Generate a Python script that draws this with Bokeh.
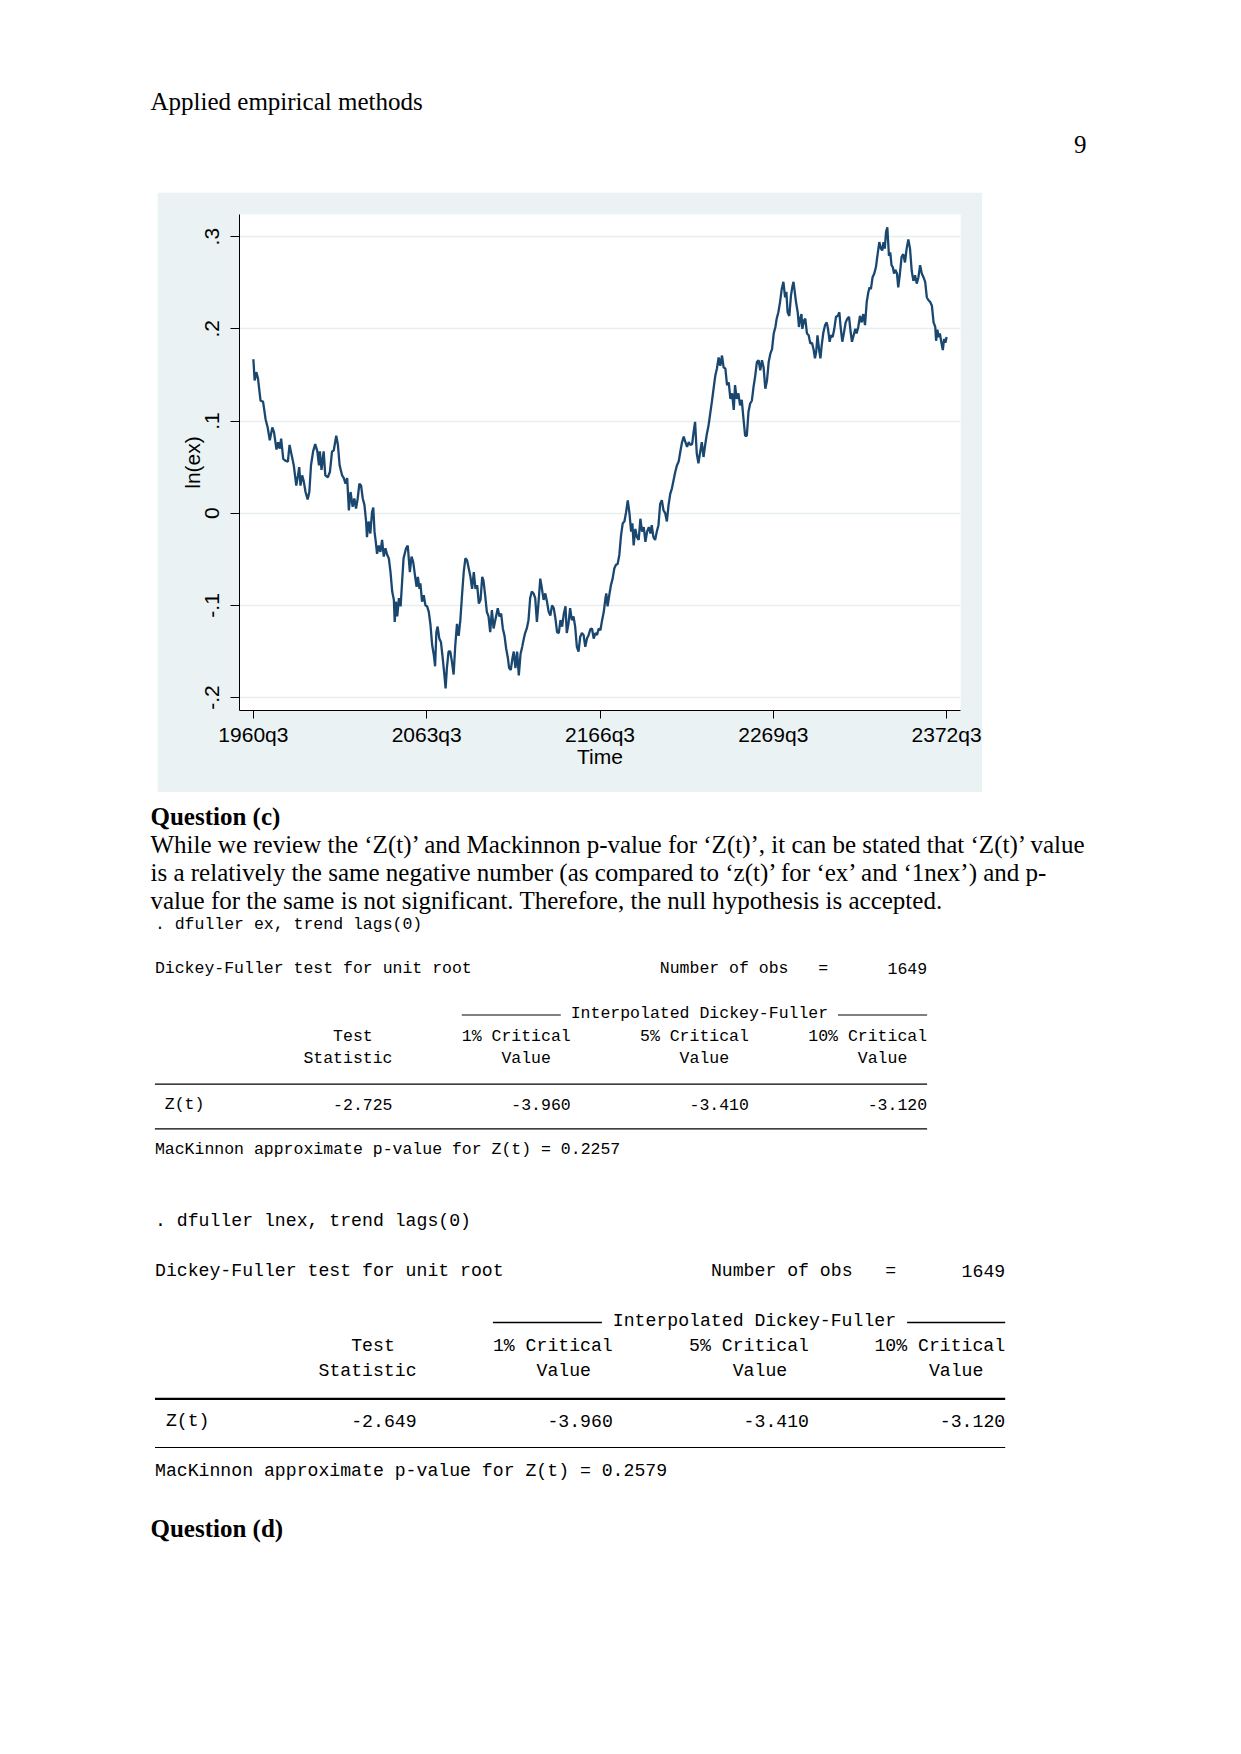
import re
from bokeh.plotting import figure
from bokeh.models import Range1d, FixedTicker, Spacer
from bokeh.layouts import column, row
from bokeh.embed import file_html
from bokeh.resources import INLINE
from bokeh.core.properties import value

# ---------------- chart data (quarter index from 1960q3, ln(ex)) ----------------
quarter_idx = [
    0, 3, 7, 11, 17, 23, 29, 34, 39, 45, 49, 55, 59, 63, 66, 71, 76, 82, 86, 91,
    96, 102, 106, 109, 112, 116, 120, 124, 129, 133, 137, 142, 147, 152, 156, 158, 162, 167, 171, 177,
    182, 187, 191, 197, 201, 205, 211, 215, 219, 223, 227, 231, 236, 240, 244, 248, 252, 256, 260, 264,
    268, 270, 274, 278, 282, 285, 288, 291, 294, 298, 302, 306, 310, 314, 318, 322, 326, 330, 334, 336,
    339, 342, 346, 350, 354, 357, 363, 367, 372, 376, 380, 384, 388, 391, 395,
    397, 401, 405, 409, 413, 417, 421, 425, 429, 432, 435, 438, 442, 446, 450, 454, 457, 460, 464, 468,
    472, 476, 480, 484, 488, 492, 496, 500, 504, 508, 512, 516, 520, 524, 528, 532, 536, 540, 544, 547,
    551, 555, 559, 563, 567, 571, 575, 581, 585, 589, 593, 597, 601, 605, 608, 612, 616, 619, 623, 627,
    631, 635, 639, 643, 646, 650, 654, 658, 662, 666, 670, 674, 678, 682, 686, 690, 694, 698, 702, 706,
    710, 714, 718, 722, 726, 730, 734, 738, 742, 745, 749, 753, 757, 761, 765, 769, 773, 777, 781, 785,
    789, 793, 797, 801, 805, 809, 813, 817, 821,
    825, 829, 833, 837, 839, 842, 846, 850, 854, 858, 862, 866, 870, 874, 878, 882, 886, 890, 894, 898,
    901, 904, 908, 912, 916, 920, 924, 928, 932, 936, 940, 944, 947, 951, 955, 959, 963, 967, 971, 975,
    979, 983, 987, 991, 995, 999, 1003, 1007, 1011, 1015, 1019, 1023, 1027, 1031, 1035, 1039, 1043, 1046, 1050, 1054,
    1058, 1062, 1066, 1070, 1074, 1078, 1082, 1086, 1090, 1094, 1098, 1102, 1106, 1110, 1114, 1118, 1122, 1126, 1130, 1134,
    1138, 1142, 1145, 1149, 1153, 1157, 1161, 1165, 1169, 1173, 1177, 1181, 1185, 1189, 1193, 1197, 1201, 1205, 1209, 1213,
    1217, 1221, 1225, 1229, 1233, 1237, 1241, 1244, 1248,
    1252, 1256, 1260, 1264, 1267, 1270, 1274, 1278, 1281, 1284, 1287, 1290, 1294, 1297, 1300, 1303, 1305, 1309, 1312, 1316,
    1320, 1324, 1328, 1332, 1335, 1338, 1341, 1345, 1348, 1351, 1355, 1359, 1363, 1366, 1370, 1373, 1377, 1381, 1385, 1389,
    1393, 1396, 1400, 1404, 1408, 1412, 1416, 1420, 1423, 1427, 1431, 1434, 1438, 1442, 1446, 1450, 1454, 1458, 1462, 1465,
    1468, 1472, 1476, 1480, 1484, 1488, 1492, 1495, 1498, 1501, 1504, 1507, 1511, 1514, 1517, 1520, 1523, 1526, 1530, 1533,
    1537, 1541, 1545, 1549, 1553, 1557, 1561, 1565, 1569, 1573, 1577, 1581, 1585, 1589, 1593, 1597, 1601, 1605, 1609, 1613,
    1617, 1621, 1623, 1626, 1629, 1632, 1636, 1639, 1642, 1645, 1648,
]
ln_ex = [
    0.167, 0.144, 0.153, 0.146, 0.122, 0.121, 0.102, 0.093, 0.079, 0.093, 0.088, 0.069, 0.077, 0.070, 0.081, 0.059, 0.057, 0.056, 0.074, 0.063,
    0.052, 0.030, 0.041, 0.050, 0.030, 0.041, 0.034, 0.023, 0.015, 0.023, 0.052, 0.067, 0.075, 0.067, 0.052, 0.067, 0.047, 0.067, 0.041, 0.039,
    0.045, 0.067, 0.068, 0.084, 0.074, 0.052, 0.041, 0.038, 0.032, 0.038, 0.003, 0.023, 0.007, 0.016, 0.005, 0.016, 0.032, 0.030, 0.016, 0.009,
    -0.009, -0.026, -0.009, -0.022, 0.001, 0.006, -0.020, -0.031, -0.044, -0.035, -0.042, -0.029, -0.047, -0.038, -0.045, -0.049, -0.064, -0.085, -0.094, -0.118,
    -0.096, -0.112, -0.092, -0.101, -0.071, -0.049, -0.038, -0.035, -0.064, -0.047, -0.053, -0.067, -0.080, -0.069, -0.082,
    -0.076, -0.096, -0.089, -0.100, -0.101, -0.107, -0.121, -0.143, -0.154, -0.166, -0.129, -0.123, -0.136, -0.140, -0.157, -0.175, -0.190, -0.168, -0.150, -0.150,
    -0.161, -0.175, -0.143, -0.120, -0.133, -0.116, -0.089, -0.064, -0.049, -0.051, -0.060, -0.069, -0.082, -0.064, -0.082, -0.078, -0.098, -0.094, -0.069, -0.073,
    -0.089, -0.107, -0.112, -0.129, -0.105, -0.125, -0.116, -0.103, -0.112, -0.109, -0.125, -0.133, -0.147, -0.157, -0.168, -0.170, -0.157, -0.150, -0.168, -0.150,
    -0.176, -0.153, -0.145, -0.136, -0.130, -0.125, -0.116, -0.092, -0.085, -0.087, -0.092, -0.118, -0.096, -0.071, -0.082, -0.094, -0.087, -0.096, -0.107, -0.111,
    -0.100, -0.103, -0.114, -0.129, -0.130, -0.116, -0.123, -0.109, -0.101, -0.130, -0.120, -0.103, -0.116, -0.112, -0.123, -0.145, -0.150, -0.134, -0.130, -0.132,
    -0.145, -0.136, -0.132, -0.126, -0.125, -0.136, -0.130, -0.132, -0.125,
    -0.127, -0.116, -0.107, -0.092, -0.087, -0.101, -0.089, -0.078, -0.071, -0.060, -0.056, -0.055, -0.045, -0.024, -0.011, -0.009, 0.001, 0.014, 0.000, -0.020,
    -0.011, -0.035, -0.017, -0.026, -0.029, -0.006, -0.020, -0.015, -0.031, -0.020, -0.015, -0.022, -0.013, -0.026, -0.029, -0.020, -0.013, 0.010, 0.014, 0.003,
    0.000, -0.009, 0.009, 0.021, 0.027, 0.036, 0.045, 0.052, 0.056, 0.067, 0.077, 0.083, 0.077, 0.072, 0.077, 0.074, 0.075, 0.086, 0.099, 0.065,
    0.054, 0.066, 0.077, 0.061, 0.074, 0.086, 0.095, 0.108, 0.121, 0.135, 0.149, 0.157, 0.169, 0.160, 0.171, 0.158, 0.157, 0.139, 0.142, 0.124,
    0.130, 0.112, 0.139, 0.124, 0.130, 0.117, 0.123, 0.103, 0.084, 0.084, 0.110, 0.119, 0.122, 0.137, 0.149, 0.164, 0.166, 0.155, 0.166, 0.158,
    0.135, 0.144, 0.164, 0.173, 0.178, 0.195, 0.202, 0.211, 0.218,
    0.229, 0.243, 0.251, 0.234, 0.240, 0.218, 0.214, 0.236, 0.245, 0.251, 0.240, 0.229, 0.218, 0.202, 0.211, 0.216, 0.200, 0.209, 0.211, 0.195,
    0.193, 0.184, 0.185, 0.177, 0.168, 0.175, 0.193, 0.177, 0.168, 0.182, 0.196, 0.204, 0.207, 0.200, 0.186, 0.193, 0.191, 0.200, 0.213, 0.214,
    0.218, 0.202, 0.186, 0.196, 0.207, 0.211, 0.213, 0.196, 0.186, 0.193, 0.200, 0.195, 0.202, 0.214, 0.207, 0.216, 0.204, 0.229, 0.240, 0.245,
    0.243, 0.256, 0.260, 0.267, 0.281, 0.294, 0.287, 0.285, 0.294, 0.287, 0.305, 0.310, 0.279, 0.283, 0.269, 0.267, 0.260, 0.264, 0.260, 0.245,
    0.260, 0.278, 0.281, 0.272, 0.287, 0.297, 0.287, 0.263, 0.252, 0.258, 0.249, 0.256, 0.269, 0.260, 0.256, 0.251, 0.234, 0.231, 0.229, 0.225,
    0.207, 0.202, 0.187, 0.199, 0.191, 0.195, 0.184, 0.177, 0.189, 0.185, 0.191,
]
x_tick_pos = [0, 412, 824, 1236, 1648]
x_tick_labels = ["1960q3", "2063q3", "2166q3", "2269q3", "2372q3"]
y_tick_pos = [-0.2, -0.1, 0.0, 0.1, 0.2, 0.3]
y_tick_labels = ["-.2", "-.1", "0", ".1", ".2", ".3"]

# ---------------- Dickey-Fuller results ----------------
nobs = [1649, 1649]
z_stat = [-2.725, -2.649]
crit_1 = [-3.960, -3.960]
crit_5 = [-3.410, -3.410]
crit_10 = [-3.120, -3.120]
p_values = [0.2257, 0.2579]
variables = ["ex", "lnex"]

# ---------------- page text ----------------
header_text = "Applied empirical methods"
page_number = "9"
heading_c = "Question (c)"
paragraph = [
    "While we review the \u2018Z(t)\u2019 and Mackinnon p-value for \u2018Z(t)\u2019, it can be stated that \u2018Z(t)\u2019 value",
    "is a relatively the same negative number (as compared to \u2018z(t)\u2019 for \u2018ex\u2019 and \u20181nex\u2019) and p-",
    "value for the same is not significant. Therefore, the null hypothesis is accepted.",
]
heading_d = "Question (d)"

SERIF = "Liberation Serif"
MONO = "Liberation Mono"
SANS = "Liberation Sans"
PAGE_W = 1225


def text_fig(w, h):
    p = figure(width=w, height=h, x_range=Range1d(0, w), y_range=Range1d(h, 0),
               x_axis_type=None, y_axis_type=None, toolbar_location=None,
               output_backend="svg", min_border=0)
    p.outline_line_color = None
    p.background_fill_color = "white"
    p.border_fill_color = "white"
    p.xgrid.visible = False
    p.ygrid.visible = False
    return p


def put_text(p, xs, ys, texts, font, size, style="normal", align="left"):
    p.text(x=xs, y=ys, text=texts, text_font=value(font), text_font_size=value(size),
           text_font_style=style, text_align=align, text_baseline="middle", text_color="black")


def stata_lines(i):
    return [
        f". dfuller {variables[i]}, trend lags(0)",
        "Dickey-Fuller test for unit root" + " " * 19 + "Number of obs   = " + f"{nobs[i]:>9}",
        "                               ---------- Interpolated Dickey-Fuller ---------",
        "                  Test         1% Critical       5% Critical      10% Critical",
        "               Statistic           Value             Value             Value",
        f" Z(t){z_stat[i]:>19.3f}{crit_1[i]:>18.3f}{crit_5[i]:>18.3f}{crit_10[i]:>18.3f}",
        f"MacKinnon approximate p-value for Z(t) = {p_values[i]:.4f}",
    ]


def draw_table(p, lines, x0, cw, ys, rule_ys, rule_w, dash_w):
    fs = f"{cw / 0.6:.2f}px"
    tx, ty, tt = [], [], []
    for line, y in zip(lines, ys):
        for m in re.finditer(r"\S+(?: \S+)*", line):
            tok, pos = m.group(), m.start()
            for part in re.split(r"(-{3,})", tok):
                if part:
                    if re.fullmatch(r"-{3,}", part):
                        p.segment(x0=[x0 + pos * cw], y0=[y + 1.5], x1=[x0 + (pos + len(part)) * cw],
                                  y1=[y + 1.5], line_color="black", line_width=dash_w)
                    else:
                        s = part.strip()
                        if s:
                            lead = len(part) - len(part.lstrip())
                            tx.append(x0 + (pos + lead) * cw)
                            ty.append(y)
                            tt.append(s)
                pos += len(part)
    put_text(p, tx, ty, tt, MONO, fs)
    width = len(lines[1])
    for ry, rw in zip(rule_ys, rule_w):
        p.segment(x0=[x0], y0=[ry], x1=[x0 + width * cw], y1=[ry], line_color="black", line_width=rw)


# ---------------- header (page coordinates) ----------------
head = text_fig(PAGE_W, 192)
put_text(head, [150], [101], [header_text], SERIF, "25px")
put_text(head, [1086], [144], [page_number], SERIF, "25px", align="right")

# ---------------- chart ----------------
p = figure(width=825, height=600, x_range=Range1d(-33, 1681), y_range=Range1d(-0.214, 0.324),
           toolbar_location=None, output_backend="svg",
           min_border_left=82, min_border_right=22, min_border_top=22, min_border_bottom=82)
p.border_fill_color = "#EAF2F3"
p.background_fill_color = "white"
p.outline_line_color = None
p.line(quarter_idx, ln_ex, line_color="#1A476F", line_width=2.3)

p.xaxis.ticker = FixedTicker(ticks=x_tick_pos)
p.xaxis.major_label_overrides = dict(zip(x_tick_pos, x_tick_labels))
p.yaxis.ticker = FixedTicker(ticks=y_tick_pos)
p.yaxis.major_label_overrides = dict(zip(y_tick_pos, y_tick_labels))
p.yaxis.major_label_orientation = "vertical"
p.xaxis.axis_label = "Time"
p.yaxis.axis_label = "ln(ex)"
for ax in (p.xaxis, p.yaxis):
    ax.major_tick_in = 0
    ax.minor_tick_line_color = None
    ax.axis_line_color = "black"
    ax.major_tick_line_color = "black"
    ax.major_label_text_font = SANS
    ax.major_label_text_font_size = "21px"
    ax.major_label_text_color = "black"
    ax.axis_label_text_font = SANS
    ax.axis_label_text_font_size = "21px"
    ax.axis_label_text_font_style = "normal"
    ax.axis_label_text_color = "black"
p.xaxis.major_tick_out = 8
p.yaxis.major_tick_out = 9
p.xaxis.major_label_standoff = 4
p.yaxis.major_label_standoff = 11
p.xaxis.axis_label_standoff = -4
p.yaxis.axis_label_standoff = -1
p.xgrid.visible = False
p.ygrid.ticker = FixedTicker(ticks=y_tick_pos)
p.ygrid.grid_line_color = "#E6EEF0"
p.ygrid.grid_line_width = 1.5

# ---------------- body (x in page coords, y = page y - 792) ----------------
body = text_fig(PAGE_W, 940)
put_text(body, [150], [24], [heading_c], SERIF, "25px", style="bold")
put_text(body, [150, 150, 150], [52, 80, 108], paragraph, SERIF, "25px")
draw_table(body, stata_lines(0), 154.4, 9.90,
           [132, 176.3, 221, 244, 265.5, 312, 357], [291.7, 336.3], [1.3, 1.3], 1.0)
draw_table(body, stata_lines(1), 154.5, 10.90,
           [428.7, 478.7, 528.5, 553, 578, 628, 678], [606.3, 655], [2.2, 1.2], 1.6)
put_text(body, [150], [736], [heading_d], SERIF, "25px", style="bold")

layout = column(head, row(Spacer(width=157, height=600), p), body)
open("out.html", "w").write(file_html(layout, INLINE))
